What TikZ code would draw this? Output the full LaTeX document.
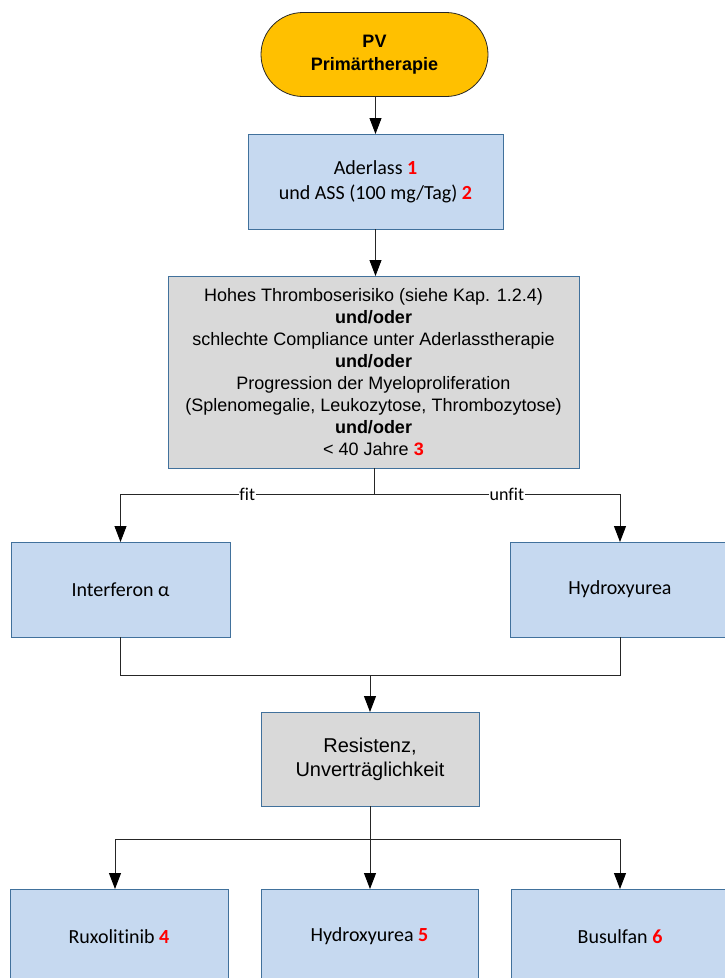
\documentclass[tikz,border=0pt]{standalone}
\usepackage{fontspec}
\usetikzlibrary{arrows.meta}
\newfontfamily\arialf{Liberation Sans}
\newfontfamily\calibrif[Ligatures=NoCommon]{Carlito}
\definecolor{termfill}{HTML}{FFC000}
\definecolor{bluefill}{HTML}{C6D9F0}
\definecolor{blueline}{HTML}{41719C}
\definecolor{greyfill}{HTML}{D9D9D9}
\definecolor{rednum}{HTML}{FF0000}
\newcommand{\rn}[1]{\textcolor{rednum}{\bfseries #1}}
\tikzset{
  every node/.style={inner sep=0pt, outer sep=0pt},
  termbox/.style={draw=black!85, line width=0.8pt, fill=termfill, rounded corners=42pt,
    minimum width=227pt, minimum height=84pt, align=center,
    font=\arialf\bfseries\fontsize{18}{22.5}\selectfont},
  bluebox/.style={draw=blueline, line width=0.8pt, fill=bluefill, minimum height=95pt,
    align=center, font=\calibrif\fontsize{20}{25}\selectfont},
  greybox/.style={draw=blueline, line width=0.8pt, fill=greyfill, align=center},
  conn/.style={draw=black!85, line width=0.9pt},
  arr/.style={conn, -{Triangle[length=16pt,width=12pt,black]}},
  lab/.style={fill=white, inner sep=0.5pt, font=\calibrif\fontsize{18}{20}\selectfont}
}
\begin{document}
\begin{tikzpicture}[x=1pt,y=-1pt]
\useasboundingbox (0,0) rectangle (724,978);
% nodes
\node[termbox] (term) at (374.5,54.5) {PV\\Primärtherapie};
\node[bluebox, minimum width=255pt] (ader) at (375.5,181.5) {Aderlass \rn{1}\\und ASS (100 mg/Tag) \rn{2}};
\node[greybox, minimum width=411pt, minimum height=192pt,
  font=\arialf\fontsize{18}{21.9}\selectfont] (crit) at (373.5,372)
  {Hohes Thromboserisiko (siehe Kap. 1.2.4)\\
   \textbf{und/oder}\\
   schlechte Compliance unter Aderlasstherapie\\
   \textbf{und/oder}\\
   Progression der Myeloproliferation\\
   (Splenomegalie, Leukozytose, Thrombozytose)\\
   \textbf{und/oder}\\
   < 40 Jahre \rn{3}};
\node[bluebox, minimum width=219pt] (ifn) at (120.5,589.5) {Interferon α};
\node[bluebox, minimum width=219pt] (hu) at (620,589.5) {Hydroxyurea};
\node[greybox, minimum width=218pt, minimum height=94pt,
  font=\arialf\fontsize{20}{24}\selectfont] (res) at (370,759) {Resistenz,\\Unverträglichkeit};
\node[bluebox, minimum width=218pt] (rux) at (119,936.5) {Ruxolitinib \rn{4}};
\node[bluebox, minimum width=217pt] (hu2) at (369.5,936.5) {Hydroxyurea \rn{5}};
\node[bluebox, minimum width=218pt] (bus) at (620,936.5) {Busulfan \rn{6}};
% branch coordinates
\coordinate (b1) at (374,494);
\coordinate (b1l) at (120.5,494);
\coordinate (b1r) at (620,494);
\coordinate (b2) at (370,675);
\coordinate (b3) at (370,839);
\coordinate (b3l) at (115,839);
\coordinate (b3r) at (620,839);
% connectors
\draw[arr] (term.south -| ader.north) -- (ader.north);
\draw[arr] (ader.south) -- (ader.south |- crit.north);
\draw[conn] (crit.south -| b1) -- (b1);
\draw[conn] (b1) -- node[lab, pos=0.5] {fit} (b1l);
\draw[arr] (b1l) -- (ifn.north);
\draw[conn] (b1) -- node[lab, pos=0.54] {unfit} (b1r);
\draw[arr] (b1r) -- (hu.north);
\draw[conn] (ifn.south) -- (ifn.south |- b2) -- (hu.south |- b2) -- (hu.south);
\draw[arr] (b2) -- (res.north);
\draw[conn] (res.south -| b3) -- (b3);
\draw[conn] (b3l) -- (b3r);
\draw[arr] (b3l) -- (b3l |- rux.north);
\draw[arr] (b3) -- (b3 |- hu2.north);
\draw[arr] (b3r) -- (bus.north);
\end{tikzpicture}
\end{document}
